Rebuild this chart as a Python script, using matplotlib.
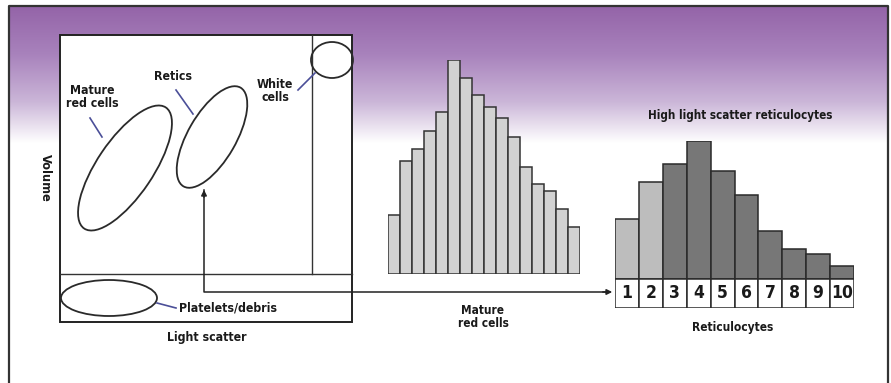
import numpy as np
import matplotlib
matplotlib.use("Agg")
import matplotlib.pyplot as plt
from matplotlib.patches import Ellipse, Rectangle
from matplotlib.colors import LinearSegmentedColormap

# ---------------- data ----------------
mature_heights = [59, 113, 125, 143, 162, 214, 196, 179, 167, 156, 137, 107, 90, 83, 65, 47]
retic_heights = [60, 97, 115, 138, 108, 84, 48, 30, 25, 13]
retic_labels = ["1", "2", "3", "4", "5", "6", "7", "8", "9", "10"]
retic_high_scatter = [False, False, True, True, True, True, True, True, True, True]

FONT = ["DejaVu Sans"]
plt.rcParams["font.family"] = FONT
plt.rcParams["font.stretch"] = "condensed"

W, H = 891, 383
fig = plt.figure(figsize=(W / 100, H / 100), dpi=100)
ax = fig.add_axes([0, 0, 1, 1])
ax.set_xlim(0, W)
ax.set_ylim(H, 0)
ax.axis("off")

# background gradient
cmap = LinearSegmentedColormap.from_list(
    "bg", [(0.0, "#9464a8"), (0.35, "#a882bc"), (0.7, "#cbb6d8"), (1.0, "#ffffff")])
grad = np.linspace(0, 1, 256).reshape(-1, 1)
ax.imshow(grad, cmap=cmap, extent=[9, 888, 143, 6], aspect="auto", zorder=0)

# outer frame
ax.plot([9, 9, 888, 888], [390, 6, 6, 390], color="#333333", lw=1.6, zorder=5)

# scatter box
ax.add_patch(Rectangle((60, 35), 292, 287, facecolor="white", edgecolor="#222222", lw=1.4, zorder=2))
ax.plot([60, 352], [274, 274], color="#333333", lw=1.0, zorder=3)
ax.plot([312, 312], [35, 274], color="#333333", lw=1.0, zorder=3)

ec = "#2a2a2a"
ax.add_patch(Ellipse((332, 60), 42, 36, facecolor="none", edgecolor=ec, lw=1.3, zorder=4))
ax.add_patch(Ellipse((125, 168), 146, 56, angle=-56, facecolor="none", edgecolor=ec, lw=1.3, zorder=4))
ax.add_patch(Ellipse((212, 137), 114, 48, angle=-60, facecolor="none", edgecolor=ec, lw=1.3, zorder=4))
ax.add_patch(Ellipse((109, 298), 96, 36, facecolor="none", edgecolor=ec, lw=1.3, zorder=4))

lead = "#4b4f98"
ax.plot([90, 102], [118, 137], color=lead, lw=1.2, zorder=4)
ax.plot([176, 193], [90, 114], color=lead, lw=1.2, zorder=4)
ax.plot([298, 315], [90, 73], color=lead, lw=1.2, zorder=4)
ax.plot([157, 176], [303, 308], color=lead, lw=1.2, zorder=4)

tk = dict(fontweight="bold", color="#1a1a1a", zorder=6)
fs = 8.8
ax.text(92, 97, "Mature\nred cells", ha="center", va="center", fontsize=fs, linespacing=1.05, **tk)
ax.text(173, 77, "Retics", ha="center", va="center", fontsize=fs, **tk)
ax.text(275, 91, "White\ncells", ha="center", va="center", fontsize=fs, linespacing=1.05, **tk)
ax.text(179, 308, "Platelets/debris", ha="left", va="center", fontsize=fs, **tk)
ax.text(207, 338, "Light scatter", ha="center", va="center", fontsize=fs, **tk)
ax.text(45, 178, "Volume", ha="center", va="center", rotation=-90, fontsize=9.2, **tk)
ax.text(483, 317, "Mature\nred cells", ha="center", va="center", fontsize=8.5, linespacing=1.05, **tk)
ax.text(740, 115, "High light scatter reticulocytes", ha="center", va="center", fontsize=8.4, **tk)
ax.text(733, 327, "Reticulocytes", ha="center", va="center", fontsize=8.6, **tk)

# connector arrows
ax.plot([204, 204, 606], [190, 292, 292], color="#222222", lw=1.1, zorder=4)
ax.annotate("", xy=(204, 187), xytext=(204, 200),
            arrowprops=dict(arrowstyle="-|>", color="#222222", lw=1.1, mutation_scale=8), zorder=5)
ax.annotate("", xy=(615, 292), xytext=(600, 292),
            arrowprops=dict(arrowstyle="-|>", color="#222222", lw=1.1, mutation_scale=8), zorder=5)

# mature red cell histogram
def fig_rect(x0, y0, x1, y1):
    return [x0 / W, (H - y1) / H, (x1 - x0) / W, (y1 - y0) / H]

ax1 = fig.add_axes(fig_rect(388, 60, 580, 274))
ax1.patch.set_alpha(0)
n1 = len(mature_heights)
ax1.bar(np.arange(n1), mature_heights, width=1.0, color="#d2d2d2", edgecolor="#333333", lw=1.1)
ax1.set_xlim(-0.5, n1 - 0.5)
ax1.set_ylim(0, max(mature_heights))
ax1.axis("off")

# reticulocyte histogram
box_h = 29
ax2 = fig.add_axes(fig_rect(615, 141, 854, 308))
ax2.patch.set_alpha(0)
n2 = len(retic_heights)
colors = ["#777777" if hs else "#bdbdbd" for hs in retic_high_scatter]
ax2.bar(np.arange(n2), retic_heights, width=1.0, color=colors, edgecolor="#2a2a2a", lw=1.1)
ax2.bar(np.arange(n2), [box_h] * n2, bottom=-box_h, width=1.0, color="white", edgecolor="#2a2a2a", lw=1.1)
for i, lab in enumerate(retic_labels):
    ax2.text(i, -box_h / 2, lab, ha="center", va="center", fontsize=12.5, fontweight="bold", color="#1a1a1a")
ax2.set_xlim(-0.5, n2 - 0.5)
ax2.set_ylim(-box_h, max(retic_heights))
ax2.axis("off")

fig.savefig("out.png", dpi=100)
